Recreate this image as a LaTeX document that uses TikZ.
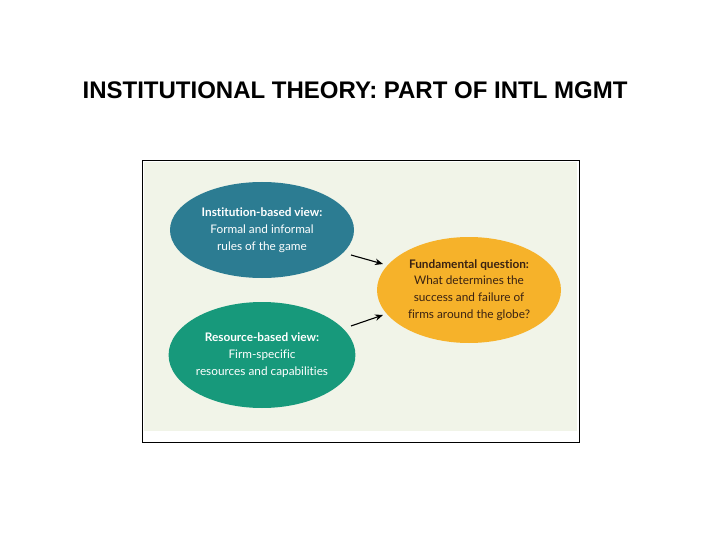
\documentclass[tikz,border=0pt]{standalone}
\usepackage{fontspec}
\setmainfont{Lato}[Ligatures=NoCommon]
\newfontfamily\titlefont{Liberation Sans}
\usetikzlibrary{shapes.geometric,arrows.meta}
\definecolor{panelbg}{HTML}{F1F4E8}
\definecolor{instblue}{HTML}{2C7C92}
\definecolor{resgreen}{HTML}{17997B}
\definecolor{qyellow}{HTML}{F6B22A}
\definecolor{qtext}{HTML}{3A2212}
\tikzset{
  oval/.style={ellipse, minimum width=184pt, minimum height=100pt, inner sep=0pt, align=center,
    font=\fontsize{11.8}{16.8}\selectfont},
  link/.style={-{Stealth[length=8pt,width=6.5pt]}, line width=1.1pt, black}
}
\begin{document}
\begin{tikzpicture}[x=1pt,y=-1pt]
\useasboundingbox[fill=white] (0,0) rectangle (720,540);
\node (title) at (355,90) {\titlefont\bfseries\fontsize{24}{28}\selectfont INSTITUTIONAL THEORY: PART OF INTL MGMT};
\node[draw=black, line width=0.8pt, fill=white, minimum width=437pt, minimum height=282pt, inner sep=0pt] (frame) at (360.5,301) {};
\fill[panelbg] (144,162) rectangle (577,431);
\node[oval, fill=instblue, text=white, minimum height=96pt] (inst) at (262,230)
  {\textbf{Institution-based view:}\\Formal and informal\\rules of the game};
\node[oval, fill=resgreen, text=white, minimum height=106pt] (res) at (262,355)
  {\textbf{Resource-based view:}\\Firm-specific\\resources and capabilities};
\node[oval, fill=qyellow, text=qtext, minimum height=106pt] (q) at (469,290)
  {\textbf{Fundamental question:}\\What determines the\\success and failure of\\firms around the globe?};
\coordinate (a1s) at (351,255);
\coordinate (a1e) at (383,264);
\coordinate (a2s) at (351,326);
\coordinate (a2e) at (383,315);
\draw[link] (a1s) -- (a1e);
\draw[link] (a2s) -- (a2e);
\end{tikzpicture}
\end{document}
